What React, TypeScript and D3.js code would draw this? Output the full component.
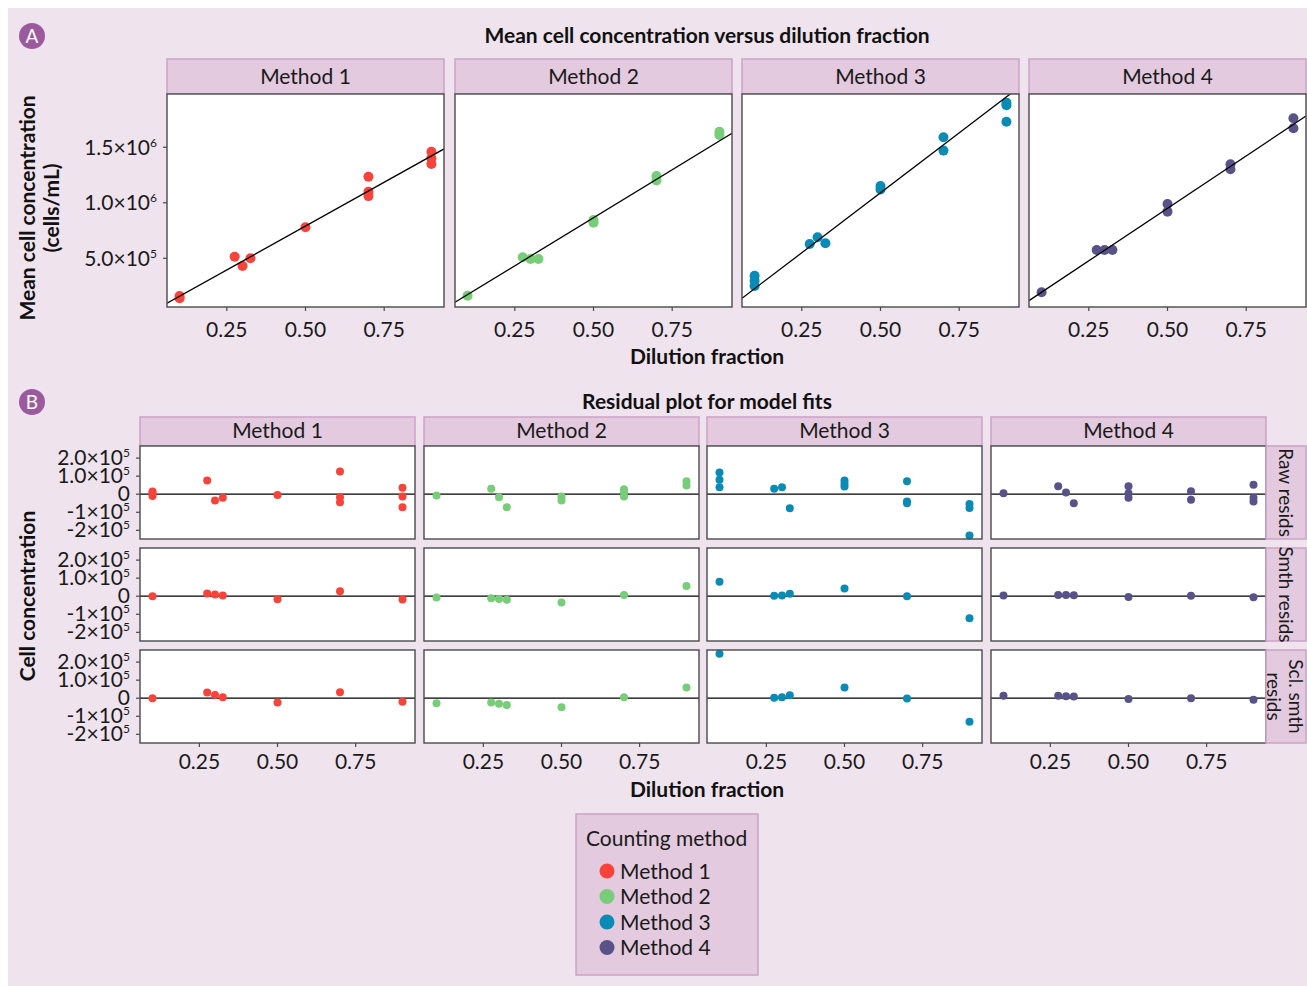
import React, { useEffect, useRef } from 'react';
import * as d3 from 'd3';

const methods = ['Method 1', 'Method 2', 'Method 3', 'Method 4'];
const methodColors = ['#F8433B', '#78CD78', '#0A8BB5', '#595289'];
const residTypes = [['Raw resids'], ['Smth resids'], ['Scl. smth', 'resids']];
const dilutions = [0.1, 0.275, 0.3, 0.325, 0.5, 0.7, 0.9];
const xTicks = [0.25, 0.5, 0.75];
const concTicks = [5e5, 1e6, 1.5e6];
const concTickLabels = [['5.0×10', '5'], ['1.0×10', '6'], ['1.5×10', '6']];
const residTicks = [2e5, 1e5, 0, -1e5, -2e5];
const residTickLabels = [['2.0×10', '5'], ['1.0×10', '5'], ['0', ''], ['-1×10', '5'], ['-2×10', '5']];

// mean cell concentration (cells/mL) per replicate
const concX = [
  [0.1, 0.1, 0.275, 0.3, 0.325, 0.5, 0.7, 0.7, 0.7, 0.9, 0.9, 0.9],
  [0.1, 0.275, 0.3, 0.325, 0.5, 0.5, 0.7, 0.7, 0.9, 0.9],
  [0.1, 0.1, 0.1, 0.275, 0.3, 0.325, 0.5, 0.5, 0.7, 0.7, 0.9, 0.9, 0.9],
  [0.1, 0.275, 0.3, 0.325, 0.5, 0.5, 0.7, 0.7, 0.9, 0.9],
];
const concY = [
  [160000, 140000, 514000, 430000, 500000, 780000, 1235000, 1100000, 1060000, 1460000, 1400000, 1350000],
  [163000, 509000, 494000, 494000, 845000, 820000, 1241000, 1200000, 1640000, 1610000],
  [343000, 295000, 250000, 629000, 689000, 635000, 1151000, 1120000, 1590000, 1470000, 1902000, 1878000, 1730000],
  [194000, 575000, 575000, 575000, 989000, 920000, 1347000, 1302000, 1761000, 1671000],
];
const fitSlope = [1580000, 1730000, 2160000, 1890000];
const fitIntercept = [0, 0, 10000, 5000];

// residuals
const rawX = [
  [0.1, 0.1, 0.1, 0.275, 0.3, 0.325, 0.5, 0.7, 0.7, 0.7, 0.9, 0.9, 0.9],
  [0.1, 0.275, 0.3, 0.325, 0.5, 0.5, 0.7, 0.7, 0.7, 0.9, 0.9],
  [0.1, 0.1, 0.1, 0.275, 0.3, 0.325, 0.5, 0.5, 0.5, 0.7, 0.7, 0.7, 0.9, 0.9, 0.9],
  [0.1, 0.275, 0.3, 0.325, 0.5, 0.5, 0.5, 0.7, 0.7, 0.9, 0.9, 0.9],
];
const rawY = [
  [15000, -10000, 5000, 76000, -35000, -20000, -5000, 126000, -17000, -44000, 36000, -13000, -72000],
  [-7000, 30000, -17000, -72000, -13000, -35000, 28000, 11000, -13000, 72000, 48000],
  [120000, 80000, 39000, 30000, 39000, -78000, 76000, 58000, 43000, 72000, -41000, -50000, -54000, -76000, -229000],
  [6000, 44000, 9000, -50000, 44000, 6000, -20000, 17000, -31000, 52000, -20000, -41000],
];
const smthY = [
  [0, 15000, 10000, 4000, -17000, 28000, -18000],
  [-7000, -11000, -15000, -20000, -35000, 7000, 57000],
  [80000, 2000, 4000, 13000, 43000, 0, -122000],
  [4000, 7000, 7000, 6000, -4000, 2000, -6000],
];
const sclY = [
  [0, 31000, 18000, 6000, -24000, 33000, -19000],
  [-28000, -24000, -30000, -37000, -50000, 6000, 59000],
  [246000, 2000, 6000, 17000, 59000, -2000, -130000],
  [13000, 14000, 11000, 9000, -4000, 0, -8000],
];

const stripFill = '#E3CADF';
const stripStroke = '#CDA2C9';
const bg = '#EFE3EE';
const font = 'Lato, "Open Sans", sans-serif';
const fs = 21;

const App = () => {
  const ref = useRef<SVGSVGElement>(null);

  useEffect(() => {
    const svg = d3.select(ref.current);
    svg.selectAll('*').remove();

    svg.append('rect').attr('x', 8).attr('y', 8).attr('width', 1299).attr('height', 978).attr('fill', bg);

    const sciLabel = (g, x, y, lab, anchor = 'end') => {
      const t = g.append('text').attr('x', x).attr('y', y).attr('text-anchor', anchor)
        .attr('font-size', fs).attr('fill', '#1a1a1a');
      t.append('tspan').text(lab[0]);
      if (lab[1]) t.append('tspan').attr('dy', -8).attr('font-size', 12).text(lab[1]);
    };

    const badge = (cx, cy, letter) => {
      svg.append('circle').attr('cx', cx).attr('cy', cy).attr('r', 13).attr('fill', '#9B5A9E');
      svg.append('text').attr('x', cx).attr('y', cy + 7).attr('text-anchor', 'middle')
        .attr('font-size', 19).attr('fill', 'white').text(letter);
    };

    const boldText = (x, y, txt, size = fs, rotate = 0) => {
      svg.append('text').attr('transform', `translate(${x},${y}) rotate(${rotate})`)
        .attr('text-anchor', 'middle').attr('font-size', size).attr('font-weight', 'bold')
        .attr('fill', '#111').text(txt);
    };

    // ---------- Panel A ----------
    badge(32, 36, 'A');
    boldText(707, 43, 'Mean cell concentration versus dilution fraction');

    const aLeft = [167, 455, 742, 1029];
    const aW = 277, aTop = 94, aBottom = 307, aStrip = 59;
    const yA = d3.scaleLinear().domain([61000, 1980000]).range([aBottom, aTop]);

    methods.forEach((m, i) => {
      const x = d3.scaleLinear().domain([0.06, 0.94]).range([aLeft[i], aLeft[i] + aW]);
      svg.append('rect').attr('x', aLeft[i]).attr('y', aStrip).attr('width', aW).attr('height', aTop - aStrip)
        .attr('fill', stripFill).attr('stroke', stripStroke).attr('stroke-width', 1.5);
      svg.append('text').attr('x', aLeft[i] + aW / 2).attr('y', aStrip + 25).attr('text-anchor', 'middle')
        .attr('font-size', fs).attr('fill', '#1a1a1a').text(m);
      svg.append('rect').attr('x', aLeft[i]).attr('y', aTop).attr('width', aW).attr('height', aBottom - aTop)
        .attr('fill', 'white');

      const clipId = `clipA${i}`;
      svg.append('clipPath').attr('id', clipId).append('rect')
        .attr('x', aLeft[i]).attr('y', aTop).attr('width', aW).attr('height', aBottom - aTop);
      const g = svg.append('g').attr('clip-path', `url(#${clipId})`);

      g.selectAll('circle').data(d3.zip(concX[i], concY[i])).join('circle')
        .attr('cx', d => x(d[0])).attr('cy', d => yA(d[1])).attr('r', 5)
        .attr('fill', methodColors[i]);

      const xs = x.domain();
      g.append('line')
        .attr('x1', x(xs[0])).attr('y1', yA(fitIntercept[i] + fitSlope[i] * xs[0]))
        .attr('x2', x(xs[1])).attr('y2', yA(fitIntercept[i] + fitSlope[i] * xs[1]))
        .attr('stroke', 'black').attr('stroke-width', 1.3);

      svg.append('rect').attr('x', aLeft[i]).attr('y', aTop).attr('width', aW).attr('height', aBottom - aTop)
        .attr('fill', 'none').attr('stroke', '#4a4a4a').attr('stroke-width', 1.4);

      xTicks.forEach(t => {
        svg.append('line').attr('x1', x(t)).attr('x2', x(t)).attr('y1', aBottom).attr('y2', aBottom + 4)
          .attr('stroke', '#4a4a4a').attr('stroke-width', 1.2);
        svg.append('text').attr('x', x(t)).attr('y', aBottom + 30).attr('text-anchor', 'middle')
          .attr('font-size', fs).attr('fill', '#1a1a1a').text(t.toFixed(2));
      });
    });

    concTicks.forEach((t, j) => {
      svg.append('line').attr('x1', aLeft[0] - 4).attr('x2', aLeft[0]).attr('y1', yA(t)).attr('y2', yA(t))
        .attr('stroke', '#4a4a4a').attr('stroke-width', 1.2);
      sciLabel(svg, aLeft[0] - 10, yA(t) + 7.5, concTickLabels[j]);
    });

    boldText(707, 364, 'Dilution fraction');
    boldText(35, 208, 'Mean cell concentration', fs, -90);
    boldText(59, 208, '(cells/mL)', fs, -90);

    // ---------- Panel B ----------
    badge(32, 402, 'B');
    boldText(707, 409, 'Residual plot for model fits');

    const bLeft = [140, 424, 707, 991];
    const bW = 275, bStrip = 417, rowTop = [446, 548, 650], rowH = 93;
    const rightStripX = 1266, rightStripW = 40;

    methods.forEach((m, i) => {
      svg.append('rect').attr('x', bLeft[i]).attr('y', bStrip).attr('width', bW).attr('height', rowTop[0] - bStrip)
        .attr('fill', stripFill).attr('stroke', stripStroke).attr('stroke-width', 1.5);
      svg.append('text').attr('x', bLeft[i] + bW / 2).attr('y', bStrip + 21).attr('text-anchor', 'middle')
        .attr('font-size', fs).attr('fill', '#1a1a1a').text(m);
    });

    residTypes.forEach((rt, r) => {
      const top = rowTop[r];
      const y = d3.scaleLinear().domain([-248000, 267000]).range([top + rowH, top]);
      const rowY = r === 0 ? rawY : r === 1 ? smthY : sclY;

      methods.forEach((m, i) => {
        const x = d3.scaleLinear().domain([0.06, 0.94]).range([bLeft[i], bLeft[i] + bW]);
        svg.append('rect').attr('x', bLeft[i]).attr('y', top).attr('width', bW).attr('height', rowH)
          .attr('fill', 'white');
        svg.append('line').attr('x1', bLeft[i]).attr('x2', bLeft[i] + bW).attr('y1', y(0)).attr('y2', y(0))
          .attr('stroke', 'black').attr('stroke-width', 1.3);
        const xs = r === 0 ? rawX[i] : dilutions;
        svg.append('g').selectAll('circle').data(d3.zip(xs, rowY[i])).join('circle')
          .attr('cx', d => x(d[0])).attr('cy', d => y(d[1])).attr('r', 4)
          .attr('fill', methodColors[i]);
        svg.append('rect').attr('x', bLeft[i]).attr('y', top).attr('width', bW).attr('height', rowH)
          .attr('fill', 'none').attr('stroke', '#4a4a4a').attr('stroke-width', 1.4);

        if (r === residTypes.length - 1) {
          xTicks.forEach(t => {
            svg.append('line').attr('x1', x(t)).attr('x2', x(t)).attr('y1', top + rowH).attr('y2', top + rowH + 4)
              .attr('stroke', '#4a4a4a').attr('stroke-width', 1.2);
            svg.append('text').attr('x', x(t)).attr('y', top + rowH + 26).attr('text-anchor', 'middle')
              .attr('font-size', fs).attr('fill', '#1a1a1a').text(t.toFixed(2));
          });
        }
      });

      residTicks.forEach((t, j) => {
        svg.append('line').attr('x1', bLeft[0] - 4).attr('x2', bLeft[0]).attr('y1', y(t)).attr('y2', y(t))
          .attr('stroke', '#4a4a4a').attr('stroke-width', 1.2);
        sciLabel(svg, bLeft[0] - 10, y(t) + 7, residTickLabels[j]);
      });

      // row strip on the right
      svg.append('rect').attr('x', rightStripX).attr('y', top).attr('width', rightStripW).attr('height', rowH)
        .attr('fill', stripFill).attr('stroke', stripStroke).attr('stroke-width', 1.5);
      const cy = top + rowH / 2;
      rt.forEach((line, k) => {
        const cx = rt.length === 1 ? rightStripX + 13 : rightStripX + 23 - k * 22;
        svg.append('text').attr('transform', `translate(${cx},${cy}) rotate(90)`)
          .attr('text-anchor', 'middle').attr('font-size', 19).attr('fill', '#1a1a1a').text(line);
      });
    });

    boldText(707, 797, 'Dilution fraction');
    boldText(35, 596, 'Cell concentration', fs, -90);

    // ---------- Legend ----------
    const lg = svg.append('g');
    lg.append('rect').attr('x', 576).attr('y', 814).attr('width', 182).attr('height', 161)
      .attr('fill', stripFill).attr('stroke', stripStroke).attr('stroke-width', 1.5);
    lg.append('text').attr('x', 586).attr('y', 846).attr('font-size', fs).attr('fill', '#1a1a1a')
      .text('Counting method');
    methods.forEach((m, i) => {
      const cy = 871 + i * 25.5;
      lg.append('circle').attr('cx', 607).attr('cy', cy).attr('r', 7.5).attr('fill', methodColors[i]);
      lg.append('text').attr('x', 620).attr('y', cy + 7.5).attr('font-size', fs).attr('fill', '#1a1a1a').text(m);
    });
  }, []);

  return (
    <svg ref={ref} width={1307} height={986}
      style={{ position: 'absolute', left: 0, top: 0, fontFamily: font }} />
  );
};

export default App;
